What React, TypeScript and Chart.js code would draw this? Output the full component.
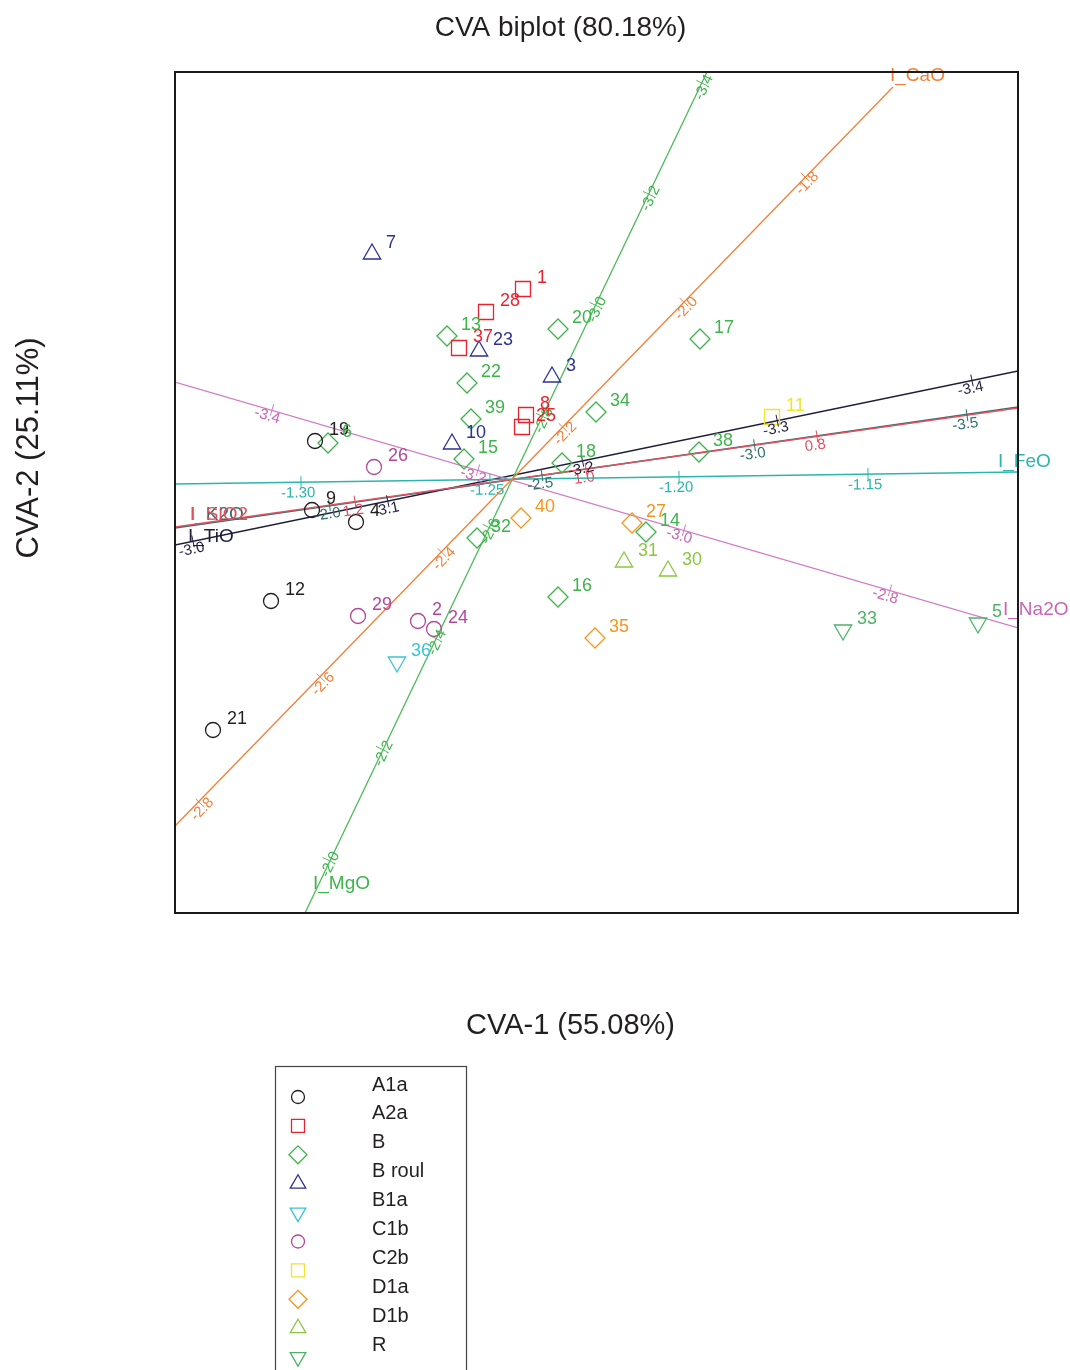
import React, { useEffect, useRef } from 'react';
import { Chart, registerables } from 'chart.js';

Chart.register(...registerables);

// ---------- texts ----------
const TITLE = 'CVA biplot (80.18%)';
const X_TITLE = 'CVA-1 (55.08%)';
const Y_TITLE = 'CVA-2 (25.11%)';

// ---------- groups ----------
const groupNames = ['A1a', 'A2a', 'B', 'B roul', 'B1a', 'C1b', 'C2b', 'D1a', 'D1b', 'R'];
const groupColors = ['#231F20', '#E8222E', '#3DB54A', '#2E3192', '#3CC3D6', '#B3479A', '#F0E32C', '#F7941D', '#8CC63F', '#4DB368'];
const groupStyles = ['circle', 'rect', 'rectRot', 'triangle', 'triangle', 'circle', 'rect', 'rectRot', 'triangle', 'triangle'];
const groupRotations = [0, 0, 0, 0, 180, 0, 0, 0, 0, 180];

// ---------- sample scores (CVA-1, CVA-2) ----------
const A1a_ids = ['19', '9', '4', '12', '21'];
const A1a_x = [-1.95, -1.98, -1.54, -2.39, -2.97];
const A1a_y = [0.39, -0.30, -0.42, -1.21, -2.50];

const A2a_ids = ['1', '28', '37', '8', '25'];
const A2a_x = [0.13, -0.24, -0.51, 0.16, 0.12];
const A2a_y = [1.91, 1.68, 1.32, 0.65, 0.53];

const B_ids = ['6', '13', '20', '22', '39', '15', '34', '17', '18', '38', '14', '16', '32'];
const B_x = [-1.82, -0.63, 0.48, -0.43, -0.39, -0.46, 0.86, 1.90, 0.52, 1.89, 1.36, 0.48, -0.33];
const B_y = [0.37, 1.44, 1.51, 0.97, 0.61, 0.21, 0.68, 1.41, 0.17, 0.28, -0.52, -1.17, -0.58];

const Broul_ids = ['7', '23', '3', '10'];
const Broul_x = [-1.38, -0.31, 0.42, -0.58];
const Broul_y = [2.26, 1.29, 1.03, 0.36];

const B1a_ids = ['36'];
const B1a_x = [-1.13];
const B1a_y = [-1.82];

const C1b_ids = ['26', '29', '2', '24'];
const C1b_x = [-1.36, -1.52, -0.92, -0.76];
const C1b_y = [0.13, -1.36, -1.41, -1.49];

const C2b_ids = ['11'];
const C2b_x = [2.62];
const C2b_y = [0.63];

const D1a_ids = ['40', '27', '35'];
const D1a_x = [0.11, 1.22, 0.85];
const D1a_y = [-0.38, -0.43, -1.58];

const D1b_ids = ['31', '30'];
const D1b_x = [1.14, 1.58];
const D1b_y = [-0.82, -0.91];

const R_ids = ['33', '5'];
const R_x = [3.33, 4.68];
const R_y = [-1.50, -1.43];

const groupIds = [A1a_ids, A2a_ids, B_ids, Broul_ids, B1a_ids, C1b_ids, C2b_ids, D1a_ids, D1b_ids, R_ids];
const groupX = [A1a_x, A2a_x, B_x, Broul_x, B1a_x, C1b_x, C2b_x, D1a_x, D1b_x, R_x];
const groupY = [A1a_y, A2a_y, B_y, Broul_y, B1a_y, C1b_y, C2b_y, D1a_y, D1b_y, R_y];

// ---------- biplot variable axes ----------
const axisNames = ['I_CaO', 'I_MgO', 'I_FeO', 'I_Na2O', 'I_K2O', 'I_SiO2', 'I_TiO'];
const axisColors = ['#F0803A', '#4DBA5A', '#2BB5AE', '#D27CC4', '#2E6F6C', '#E0505F', '#1E1E3C'];
const axisTextColors = ['#F0803A', '#3DB54A', '#2BB5AE', '#C866B4', '#2E6F6C', '#E0505F', '#1E1E3C'];
const axisStartX = [-3.35, -2.05, -3.35, -3.35, -3.35, -3.35, -3.35];
const axisStartY = [-3.46, -4.33, -0.04, 0.98, -0.48, -0.47, -0.65];
const axisEndX = [3.83, 1.97, 5.08, 5.08, 5.08, 5.08, 5.08];
const axisEndY = [3.93, 4.08, 0.08, -1.48, 0.73, 0.72, 1.09];
const axisLabelX = [3.80, -1.97, 4.88, 4.93, -3.20, -3.20, -3.22];
const axisLabelY = [4.04, -4.04, 0.18, -1.30, -0.35, -0.35, -0.57];

const CaO_ticks = [-2.8, -2.6, -2.4, -2.2, -2.0, -1.8];
const MgO_ticks = [-2.0, -2.2, -2.4, -2.6, -2.8, -3.0, -3.2, -3.4];
const FeO_ticks = [-1.30, -1.25, -1.20, -1.15];
const Na2O_ticks = [-3.4, -3.2, -3.0, -2.8];
const K2O_ticks = [-2.0, -2.5, -3.0, -3.5];
const SiO2_ticks = [1.2, 1.0, 0.8];
const TiO_ticks = [-3.0, -3.1, -3.2, -3.3, -3.4];
const axisTicks = [CaO_ticks, MgO_ticks, FeO_ticks, Na2O_ticks, K2O_ticks, SiO2_ticks, TiO_ticks];
const axisTickDecimals = [1, 1, 2, 1, 1, 1, 1];
// position of the first tick and the step between ticks, in score units
const axisTick0X = [-3.10, -1.82, -2.09, -2.38, -1.805, -1.55, -3.17];
const axisTick0Y = [-3.23, -3.80, -0.022, 0.70, -0.252, -0.216, -0.613];
const axisTickStepX = [1.21, 0.534, 1.89, 2.06, 2.125, 2.31, 1.9475];
const axisTickStepY = [1.252, 1.11, 0.027, -0.601, 0.30, 0.326, 0.402];
const axisLabelOffset = [6, 4, 11, 7, 9, 9, 8];

const X_MIN = -3.35, X_MAX = 5.08, Y_MIN = -4.33, Y_MAX = 4.08;

const FONT = '"Liberation Sans", Arial, Helvetica, sans-serif';

function drawMarker(ctx: CanvasRenderingContext2D, style: string, rot: number, x: number, y: number, r: number) {
  ctx.beginPath();
  if (style === 'circle') {
    ctx.arc(x, y, r, 0, Math.PI * 2);
  } else if (style === 'rect') {
    ctx.rect(x - r, y - r, 2 * r, 2 * r);
  } else if (style === 'rectRot') {
    ctx.moveTo(x - r, y); ctx.lineTo(x, y - r); ctx.lineTo(x + r, y); ctx.lineTo(x, y + r); ctx.closePath();
  } else {
    const s = rot === 180 ? -1 : 1;
    const h = r * 1.5;
    const w = r * Math.sqrt(3) / 2;
    ctx.moveTo(x, y - s * r);
    ctx.lineTo(x + w, y - s * (r - h));
    ctx.lineTo(x - w, y - s * (r - h));
    ctx.closePath();
  }
  ctx.stroke();
}

const overlayPlugin = {
  id: 'biplotOverlay',
  afterDatasetsDraw(chart: any) {
    const ctx: CanvasRenderingContext2D = chart.ctx;
    const xs = chart.scales.x;
    const ys = chart.scales.y;
    const px = (v: number) => xs.getPixelForValue(v);
    const py = (v: number) => ys.getPixelForValue(v);

    // axis ticks, tick labels, axis names
    axisNames.forEach((name, a) => {
      const dxp = px(axisTick0X[a] + axisTickStepX[a]) - px(axisTick0X[a]);
      const dyp = py(axisTick0Y[a] + axisTickStepY[a]) - py(axisTick0Y[a]);
      let ang = Math.atan2(dyp, dxp);
      if (ang > Math.PI / 2) ang -= Math.PI;
      if (ang < -Math.PI / 2) ang += Math.PI;
      const nx = -Math.sin(ang);
      const ny = Math.cos(ang);
      axisTicks[a].forEach((v, i) => {
        const tx = px(axisTick0X[a] + i * axisTickStepX[a]);
        const ty = py(axisTick0Y[a] + i * axisTickStepY[a]);
        ctx.save();
        ctx.strokeStyle = axisColors[a];
        ctx.lineWidth = 1;
        ctx.beginPath();
        ctx.moveTo(tx - nx * 6, ty - ny * 6);
        ctx.lineTo(tx + nx * 6, ty + ny * 6);
        ctx.stroke();
        ctx.translate(tx + nx * axisLabelOffset[a] - Math.cos(ang) * 3, ty + ny * axisLabelOffset[a] - Math.sin(ang) * 3);
        ctx.rotate(ang);
        ctx.fillStyle = axisTextColors[a];
        ctx.font = `15px ${FONT}`;
        ctx.textAlign = 'center';
        ctx.textBaseline = 'middle';
        ctx.fillText(v.toFixed(axisTickDecimals[a]), 0, 0);
        ctx.restore();
      });
      ctx.save();
      ctx.fillStyle = axisTextColors[a];
      ctx.font = `19px ${FONT}`;
      ctx.textAlign = 'left';
      ctx.textBaseline = 'middle';
      ctx.fillText(name, px(axisLabelX[a]), py(axisLabelY[a]));
      ctx.restore();
    });

    // point labels
    ctx.save();
    ctx.font = `18px ${FONT}`;
    ctx.textAlign = 'left';
    ctx.textBaseline = 'middle';
    groupIds.forEach((ids, g) => {
      ctx.fillStyle = groupColors[g];
      ids.forEach((id, i) => {
        ctx.fillText(id, px(groupX[g][i]) + 14, py(groupY[g][i]) - 11);
      });
    });
    ctx.restore();

    // frame
    const ca = chart.chartArea;
    ctx.save();
    ctx.strokeStyle = '#1A1A1A';
    ctx.lineWidth = 2;
    ctx.strokeRect(ca.left, ca.top, ca.right - ca.left, ca.bottom - ca.top);
    ctx.restore();
  },
  afterDraw(chart: any) {
    const ctx: CanvasRenderingContext2D = chart.ctx;
    const ca = chart.chartArea;
    const cx = (ca.left + ca.right) / 2;
    ctx.save();
    ctx.fillStyle = '#231F20';
    ctx.textAlign = 'center';
    ctx.textBaseline = 'middle';
    ctx.font = `28px ${FONT}`;
    ctx.fillText(TITLE, cx - 36, 28);
    ctx.font = `29px ${FONT}`;
    ctx.fillText(X_TITLE, cx - 26, 1026);
    ctx.save();
    ctx.translate(29, 448);
    ctx.rotate(-Math.PI / 2);
    ctx.font = `31px ${FONT}`;
    ctx.fillText(Y_TITLE, 0, 0);
    ctx.restore();

    // legend
    const lx = 275, ly = 1066, lw = 191;
    ctx.strokeStyle = '#444444';
    ctx.lineWidth = 1.2;
    ctx.strokeRect(lx + 0.5, ly + 0.5, lw, 400);
    const step = 28.9;
    groupNames.forEach((name, g) => {
      ctx.strokeStyle = groupColors[g];
      ctx.lineWidth = 1.3;
      const st = groupStyles[g];
      const r = st === 'circle' ? 6.5 : st === 'rect' ? 6.5 : 9;
      drawMarker(ctx, st, groupRotations[g], lx + 23, ly + 31 + g * step, r);
      ctx.fillStyle = '#231F20';
      ctx.font = `20px ${FONT}`;
      ctx.textAlign = 'left';
      ctx.fillText(name, lx + 97, ly + 19 + g * step);
    });
    ctx.restore();
  },
};

export default function App() {
  const canvasRef = useRef<HTMLCanvasElement | null>(null);

  useEffect(() => {
    if (!canvasRef.current) return;

    const lineSets = axisNames.map((name, a) => ({
      label: name,
      data: [
        { x: axisStartX[a], y: axisStartY[a] },
        { x: axisEndX[a], y: axisEndY[a] },
      ],
      showLine: true,
      borderColor: axisColors[a],
      backgroundColor: axisColors[a],
      borderWidth: 1.3,
      pointRadius: 0,
      order: name === 'I_K2O' ? 4 : 3,
    }));

    const pointSets = groupNames.map((name, g) => {
      const st = groupStyles[g];
      const r = st === 'circle' ? 7.5 : st === 'rect' ? 10.6 : 10;
      return {
        label: name,
        data: groupX[g].map((x, i) => ({ x, y: groupY[g][i] })),
        showLine: false,
        pointStyle: st,
        rotation: groupRotations[g],
        pointRadius: r,
        pointBorderWidth: 1.3,
        pointBorderColor: groupColors[g],
        pointBackgroundColor: 'rgba(0,0,0,0)',
        borderColor: groupColors[g],
        backgroundColor: 'rgba(0,0,0,0)',
        order: 1,
      };
    });

    const chart = new Chart(canvasRef.current, {
      type: 'scatter',
      data: { datasets: [...pointSets, ...lineSets] as any },
      options: {
        animation: false,
        responsive: false,
        devicePixelRatio: 1,
        layout: { padding: { left: 175, top: 72, right: 52, bottom: 457 } },
        scales: {
          x: { type: 'linear', min: X_MIN, max: X_MAX, display: false },
          y: { type: 'linear', min: Y_MIN, max: Y_MAX, display: false },
        },
        plugins: {
          legend: { display: false },
          title: { display: false },
          tooltip: { enabled: false },
        },
        events: [],
      },
      plugins: [overlayPlugin],
    });
    return () => chart.destroy();
  }, []);

  return (
    <div style={{ position: 'absolute', left: 0, top: 0, width: 1070, height: 1370, background: '#ffffff' }}>
      <canvas ref={canvasRef} width={1070} height={1370} style={{ display: 'block' }} />
    </div>
  );
}
